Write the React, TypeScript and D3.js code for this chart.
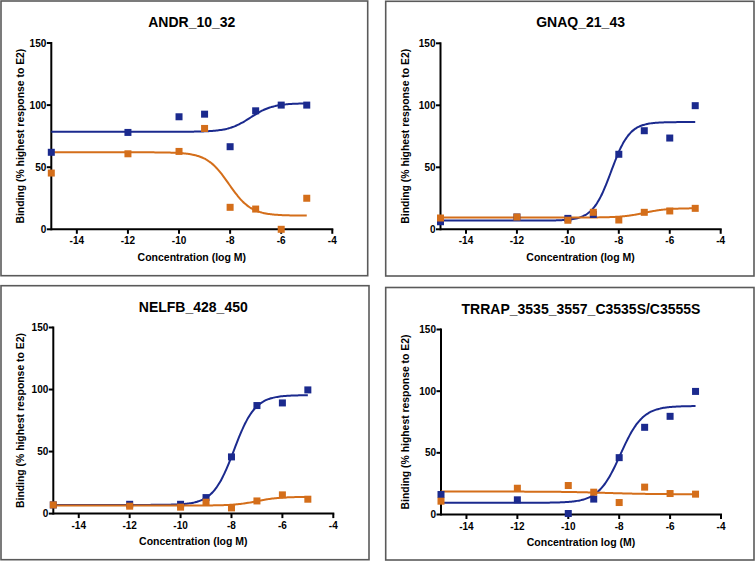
import React from "react";
import * as d3 from "d3";

// ---------- data ----------
const concentrations = [-15, -12, -10, -9, -8, -7, -6, -5];
const xTicks = [-14, -12, -10, -8, -6, -4];
const yTicks = [0, 50, 100, 150];
const titles = ["ANDR_10_32", "GNAQ_21_43", "NELFB_428_450", "TRRAP_3535_3557_C3535S/C3555S"];
const xLabels = ["Concentration (log M)", "Concentration (log M)", "Concentration (log M)", "Concentration log (M)"];
const yLabel = "Binding (% highest response to E2)";

const blueValues = [
  [62, 78, 90.6, 92.7, 66.5, 95.4, 100, 100],
  [6.1, 9.9, 8.8, 12, 60.5, 79.5, 73.6, 99.7],
  [7, 7.5, 7.5, 12.9, 45.7, 87.1, 89.2, 99.7],
  [16.2, 11.9, 0.8, 12.5, 46.1, 70.7, 79.6, 99.8],
];
const orangeValues = [
  [45.3, 60.8, 62.7, 81.2, 17.7, 16.3, 0, 25],
  [9.1, 9.9, 7.3, 13.7, 7.5, 13.7, 14.8, 16.9],
  [7, 6, 5.2, 9.2, 4.6, 10.2, 15.1, 11.6],
  [10.8, 21.3, 23.5, 18.1, 9.7, 22.2, 17, 16.5],
];
// fitted 4PL parameters: [bottom, top, logEC50, hill]
const blueFits = [
  [78.5, 101.5, -7.2, 1],
  [7, 86.5, -8.3, 1.2],
  [7, 95.5, -7.9, 1.05],
  [9.5, 88, -7.95, 1.0],
];
const orangeFits = [
  [11, 62, -8.05, -1],
  [9.5, 17, -7, 1],
  [6.5, 13.5, -7, 1],
  [16.4, 18.6, -8.5, -0.5],
];

// ---------- layout ----------
const layouts = [
  { box: [1, 1, 366.7, 274.7], plot: [51.3, 332.3, 43, 229.3], yLabX: 20.8 },
  { box: [385.7, 1.3, 368.3, 274.7], plot: [440.5, 720.7, 43.3, 229.3], yLabX: 405.5 },
  { box: [1, 285.7, 368, 274], plot: [53.3, 333.3, 327.5, 513.6], yLabX: 20 },
  { box: [385.7, 287.5, 368.3, 272.5], plot: [441, 721, 329.5, 514.5], yLabX: 405.5 },
];

const BLUE = "#1B2A8E";
const ORANGE = "#D46E1A";
const FONT = "'Liberation Sans', Arial, Helvetica, sans-serif";

function logistic(p: number[], x: number) {
  const [bottom, top, ec, hill] = p;
  return bottom + (top - bottom) / (1 + Math.pow(10, (ec - x) * hill));
}

function Panel({ i }: { i: number }) {
  const L = layouts[i];
  const [bx, by, bw, bh] = L.box;
  const [left, right, top, bottom] = L.plot;
  const x = d3.scaleLinear().domain([-15, -4]).range([left, right]);
  const y = d3.scaleLinear().domain([0, 150]).range([bottom, top]);
  const xs = d3.range(-15, -4.999, 0.05);
  const line = d3
    .line<number>()
    .x((d) => x(d))
    .curve(d3.curveMonotoneX);
  const bluePath = line.y((d) => y(logistic(blueFits[i], d)))(xs) || "";
  const orangePath = line.y((d) => y(logistic(orangeFits[i], d)))(xs) || "";
  const sq = 7;
  const cx = (left + right) / 2;
  const cy = (top + bottom) / 2;
  return (
    <g>
      <rect x={bx} y={by} width={bw} height={bh} fill="white" stroke="#5a5a5a" strokeWidth={1.6} />
      <text x={cx} y={top - 16} textAnchor="middle" fontFamily={FONT} fontWeight="bold" fontSize={14} fill="#000">
        {titles[i]}
      </text>
      {/* axes */}
      <line x1={left} x2={right + 1} y1={bottom} y2={bottom} stroke="#000" strokeWidth={2} />
      <line x1={left} x2={left} y1={top - 1} y2={bottom + 1} stroke="#000" strokeWidth={2} />
      {xTicks.map((t) => (
        <g key={"x" + t}>
          <line x1={x(t)} x2={x(t)} y1={bottom} y2={bottom + 4.5} stroke="#000" strokeWidth={2} />
          <text x={x(t)} y={bottom + 15} textAnchor="middle" fontFamily={FONT} fontWeight="bold" fontSize={10} fill="#000">
            {t}
          </text>
        </g>
      ))}
      {yTicks.map((t) => (
        <g key={"y" + t}>
          <line x1={left - 4.5} x2={left} y1={y(t)} y2={y(t)} stroke="#000" strokeWidth={2} />
          <text x={left - 5} y={y(t) + 3.6} textAnchor="end" fontFamily={FONT} fontWeight="bold" fontSize={10} fill="#000">
            {t}
          </text>
        </g>
      ))}
      <text x={cx} y={bottom + 31.5} textAnchor="middle" fontFamily={FONT} fontWeight="bold" fontSize={10.5} fill="#000">
        {xLabels[i]}
      </text>
      <text
        transform={`translate(${L.yLabX + 3.6},${cy}) rotate(-90)`}
        textAnchor="middle"
        fontFamily={FONT}
        fontWeight="bold"
        fontSize={10.4}
        fill="#000"
      >
        {yLabel}
      </text>
      {/* curves */}
      <path d={bluePath} fill="none" stroke={BLUE} strokeWidth={2} />
      <path d={orangePath} fill="none" stroke={ORANGE} strokeWidth={2} />
      {/* points */}
      {concentrations.map((c, j) => (
        <rect key={"b" + j} x={x(c) - sq / 2} y={y(blueValues[i][j]) - sq / 2} width={sq} height={sq} fill={BLUE} />
      ))}
      {concentrations.map((c, j) => (
        <rect key={"o" + j} x={x(c) - sq / 2} y={y(orangeValues[i][j]) - sq / 2} width={sq} height={sq} fill={ORANGE} />
      ))}
    </g>
  );
}

export default function App() {
  return (
    <svg
      width={756}
      height={562}
      style={{ position: "absolute", left: 0, top: 0, background: "white" }}
    >
      <rect x={0} y={0} width={756} height={562} fill="white" />
      {[0, 1, 2, 3].map((i) => (
        <Panel key={i} i={i} />
      ))}
    </svg>
  );
}
